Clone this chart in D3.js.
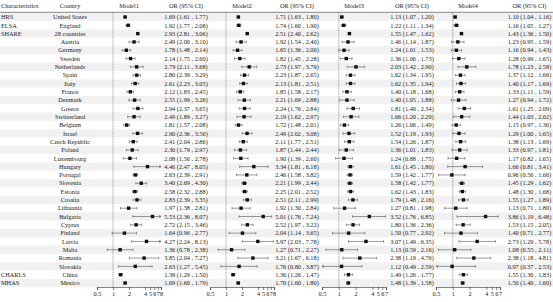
<!DOCTYPE html>
<html>
<head>
<meta charset="utf-8">
<script src="https://cdn.jsdelivr.net/npm/d3@7"></script>
<style>
body { margin: 0; background: #fff; }
text { font-family: "Liberation Serif", "DejaVu Serif", serif; fill: #222; }
</style>
</head>
<body>
<script>
// cohort label for each row (blank = part of SHARE)
var cohorts = ["HRS","ELSA","SHARE","","","","","","","","","","","","","","","","","","","","","","","","","","","","","CHARLS","MHAS"];
var countries = ["United States","England","28 countries","Austria","Germany","Sweden","Netherlands","Spain","Italy","France","Denmark","Greece","Switzerland","Belgium","Israel","Czech Republic","Poland","Luxembourg","Hungary","Portugal","Slovenia","Estonia","Croatia","Lithuania","Bulgaria","Cyprus","Finland","Latvia","Malta","Romania","Slovakia","China","Mexico"];

// [OR, lower, upper]
var model1 = [[1.69,1.61,1.77],[1.92,1.77,2.08],[2.93,2.81,3.06],[2.49,2.00,3.10],[1.78,1.48,2.14],[2.14,1.75,2.60],[2.79,2.11,3.68],[2.80,2.39,3.29],[2.61,2.23,3.05],[2.12,1.83,2.45],[2.55,1.99,3.26],[2.94,2.37,3.65],[2.49,1.89,3.27],[1.81,1.57,2.08],[2.90,2.36,3.56],[2.41,2.04,2.86],[2.30,1.79,2.97],[2.08,1.56,2.78],[4.46,2.47,8.05],[2.63,2.39,2.91],[3.40,2.69,4.30],[2.58,2.32,2.88],[2.83,2.39,3.35],[1.97,1.38,2.81],[5.53,2.36,8.07],[2.72,2.15,3.46],[1.64,0.96,2.77],[4.27,2.24,8.13],[1.36,0.78,2.38],[3.85,2.04,7.27],[2.63,1.27,5.45],[1.39,1.29,1.50],[1.69,1.60,1.79]];
var model2 = [[1.71,1.63,1.80],[1.74,1.60,1.90],[2.51,2.40,2.62],[1.92,1.54,2.40],[1.65,1.36,2.00],[1.82,1.45,2.28],[2.73,1.97,3.79],[2.23,1.87,2.65],[2.13,1.81,2.51],[1.85,1.58,2.17],[2.21,1.69,2.88],[2.24,1.76,2.84],[2.19,1.62,2.97],[1.72,1.48,2.01],[2.49,2.02,3.08],[2.11,1.77,2.51],[1.87,1.44,2.44],[1.90,1.39,2.60],[3.34,1.81,6.18],[2.46,1.58,3.82],[2.21,1.99,2.44],[2.25,2.01,2.52],[2.51,2.11,2.99],[1.92,1.30,2.84],[5.01,1.76,7.24],[2.52,1.97,3.22],[2.04,1.14,3.65],[3.97,2.03,7.78],[1.27,0.71,2.27],[3.21,1.67,6.18],[1.76,0.80,3.87],[1.36,1.26,1.47],[1.70,1.60,1.80]];
var model3 = [[1.13,1.07,1.20],[1.22,1.11,1.34],[1.55,1.47,1.62],[1.46,1.14,1.87],[1.24,1.01,1.53],[1.36,1.06,1.73],[2.03,1.42,2.90],[1.62,1.34,1.95],[1.62,1.35,1.94],[1.40,1.18,1.68],[1.40,1.05,1.88],[1.81,1.40,2.34],[1.66,1.20,2.29],[1.26,1.06,1.49],[1.52,1.19,1.93],[1.54,1.26,1.87],[1.36,1.01,1.83],[1.24,0.88,1.75],[1.61,1.45,1.80],[1.59,1.42,1.77],[1.58,1.42,1.77],[1.62,1.43,1.83],[1.79,1.48,2.16],[1.27,0.81,1.98],[3.52,1.76,6.85],[1.80,1.36,2.36],[1.50,0.77,2.92],[3.07,1.49,6.35],[1.13,0.59,2.16],[2.38,1.19,4.76],[1.12,0.49,2.59],[1.49,1.26,1.77],[1.48,1.39,1.58]];
var model4 = [[1.10,1.04,1.16],[1.16,1.05,1.27],[1.43,1.36,1.50],[1.23,0.95,1.59],[1.16,0.94,1.43],[1.28,0.99,1.65],[1.78,1.23,2.58],[1.37,1.12,1.66],[1.40,1.17,1.69],[1.33,1.11,1.59],[1.27,0.94,1.72],[1.61,1.25,2.09],[1.44,1.03,2.02],[1.15,0.97,1.36],[1.29,1.00,1.65],[1.38,1.13,1.69],[1.33,0.97,1.81],[1.17,0.82,1.65],[1.66,0.81,3.41],[0.96,0.56,1.66],[1.45,1.29,1.62],[1.48,1.30,1.68],[1.55,1.27,1.89],[1.13,0.71,1.80],[3.86,1.19,6.48],[1.53,1.15,2.05],[1.40,0.71,2.77],[2.73,1.29,5.78],[1.08,0.55,2.11],[2.38,1.18,4.81],[0.97,0.37,2.53],[1.55,1.30,1.83],[1.50,1.40,1.60]];

var ticks12 = [0.5, 1, 2, 4, 5, 6, 7, 8];
var ticks34 = [0.5, 1, 2, 4, 5, 6, 7];

var W = 553, H = 302;
var svg = d3.select("body").append("svg").attr("width", W).attr("height", H);

var rowY = d3.scaleLinear().domain([0, countries.length - 1]).range([17, 283]);
var rowH = rowY(1) - rowY(0);
var fs = 6.3;

// stripes
svg.selectAll("rect.stripe").data(countries).enter().append("rect")
    .attr("class", "stripe")
    .attr("x", 0).attr("width", W)
    .attr("y", function(d, i) { return rowY(i) - rowH / 2; })
    .attr("height", rowH)
    .attr("fill", function(d, i) { return i % 2 == 0 ? "#f1f1f1" : "#fff"; });

// header
var hy = 8;
svg.append("text").attr("x", 1).attr("y", hy).attr("font-size", fs).text("Characteristics");
svg.append("text").attr("x", 70).attr("y", hy).attr("font-size", fs).attr("text-anchor", "middle").text("Country");
svg.append("line").attr("x1", 0).attr("x2", W).attr("y1", 12.3).attr("y2", 12.3)
    .attr("stroke", "#333").attr("stroke-width", 0.6);

svg.selectAll("text.cohort").data(cohorts).enter().append("text")
    .attr("class", "cohort")
    .attr("x", 1).attr("y", function(d, i) { return rowY(i); })
    .attr("dy", "0.35em").attr("font-size", fs)
    .text(function(d) { return d; });

svg.selectAll("text.country").data(countries).enter().append("text")
    .attr("class", "country")
    .attr("x", 70).attr("y", function(d, i) { return rowY(i); })
    .attr("dy", "0.35em").attr("font-size", fs).attr("text-anchor", "middle")
    .text(function(d) { return d; });

var panels = [
    {name: "Model1", data: model1, x0: 97, x1: 161, max: 8, ticks: ticks12, tx: 186},
    {name: "Model2", data: model2, x0: 210, x1: 274, max: 8, ticks: ticks12, tx: 297},
    {name: "Model3", data: model3, x0: 322, x1: 386, max: 7, ticks: ticks34, tx: 412},
    {name: "Model4", data: model4, x0: 436, x1: 500, max: 7, ticks: ticks34, tx: 529.5}
];

var axisY = 287;

panels.forEach(function(p) {
    var x = d3.scaleLog().domain([0.5, p.max]).range([p.x0, p.x1]);
    var g = svg.append("g");

    g.append("text").attr("x", (p.x0 + p.x1) / 2).attr("y", hy).attr("font-size", fs)
        .attr("text-anchor", "middle").text(p.name);
    g.append("text").attr("x", p.tx).attr("y", hy).attr("font-size", fs)
        .attr("text-anchor", "middle").text("OR (95% CI)");

    // reference line at OR = 1
    g.append("line").attr("x1", x(1)).attr("x2", x(1)).attr("y1", 12.3).attr("y2", axisY)
        .attr("stroke", "#444").attr("stroke-width", 0.6).attr("stroke-dasharray", "1,1");

    var rows = g.selectAll("g.row").data(p.data).enter().append("g")
        .attr("class", "row")
        .attr("transform", function(d, i) { return "translate(0," + rowY(i) + ")"; });

    rows.each(function(d) {
        var r = d3.select(this);
        var lo = Math.max(d[1], 0.5), hi = Math.min(d[2], p.max);
        r.append("line").attr("x1", x(lo)).attr("x2", x(hi))
            .attr("stroke", "#555").attr("stroke-width", 0.6);
        if (d[1] >= 0.5) {
            r.append("line").attr("x1", x(lo)).attr("x2", x(lo)).attr("y1", -1.3).attr("y2", 1.3)
                .attr("stroke", "#555").attr("stroke-width", 0.6);
        } else {
            r.append("path").attr("d", "M" + (x(lo) + 2) + ",-1.3L" + x(lo) + ",0L" + (x(lo) + 2) + ",1.3")
                .attr("fill", "none").attr("stroke", "#555").attr("stroke-width", 0.6);
        }
        if (d[2] <= p.max) {
            r.append("line").attr("x1", x(hi)).attr("x2", x(hi)).attr("y1", -1.3).attr("y2", 1.3)
                .attr("stroke", "#555").attr("stroke-width", 0.6);
        } else {
            r.append("path").attr("d", "M" + (x(hi) - 2) + ",-1.3L" + x(hi) + ",0L" + (x(hi) - 2) + ",1.3")
                .attr("fill", "none").attr("stroke", "#555").attr("stroke-width", 0.6);
        }
        r.append("rect").attr("x", x(d[0]) - 1.7).attr("y", -1.7).attr("width", 3.4).attr("height", 3.4)
            .attr("fill", "#111");
    });

    rows.append("text").attr("x", p.tx).attr("dy", "0.35em").attr("font-size", fs)
        .attr("text-anchor", "middle")
        .text(function(d) {
            return d[0].toFixed(2) + " (" + d[1].toFixed(2) + " , " + d[2].toFixed(2) + ")";
        });

    var axis = d3.axisBottom(x).tickValues(p.ticks).tickSize(3).tickFormat(d3.format("~g"));
    var ag = g.append("g").attr("transform", "translate(0," + axisY + ")").call(axis);
    ag.select(".domain").attr("stroke", "#333").attr("stroke-width", 0.6);
    ag.selectAll(".tick line").attr("stroke", "#333").attr("stroke-width", 0.6);
    ag.selectAll(".tick text").attr("font-family", "Liberation Serif, serif")
        .attr("font-size", fs).attr("fill", "#222").attr("dy", "0.5em");
});
</script>
</body>
</html>
